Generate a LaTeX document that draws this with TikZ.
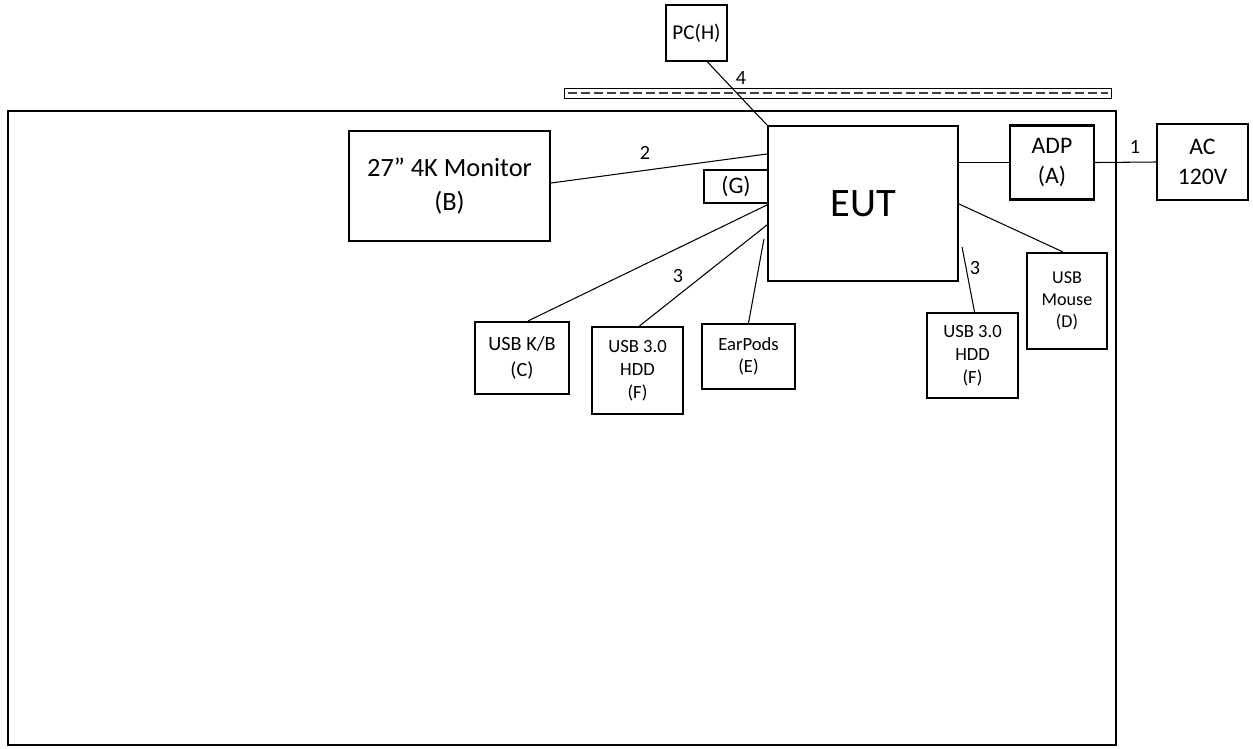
\documentclass[tikz,border=0pt]{standalone}
\usepackage{fontspec}
\setmainfont{Carlito}
\usetikzlibrary{calc}
\newcommand{\fsz}[2]{\fontsize{#1}{#2}\selectfont}
\begin{document}
\begin{tikzpicture}[x=0.02cm,y=-0.02cm,
  unit/.style={draw,line width=1.2pt,inner sep=0pt,align=center},
  cable/.style={line width=0.6pt},
  num/.style={font=\fsz{11.5}{13}}]
\useasboundingbox (0,0) rectangle (1253,748);
\draw[line width=1.2pt] (8,111) rectangle (1116,745);
% table edge
\draw[line width=0.5pt] (564,88) rectangle (1111,98);
\draw[line width=1.6pt,color=darkgray,dash pattern=on 0.18cm off 0.08cm] (568,93) -- (1108,93);
% units
\node[unit,minimum width=1.22cm,minimum height=1.12cm,font=\fsz{12}{14}] (pc) at (696.5,33) {PC(H)};
\node[unit,minimum width=3.8cm,minimum height=3.1cm,font=\fsz{23}{27}] (eut) at (863,203.5) {EUT};
\node[unit,minimum width=4.02cm,minimum height=2.2cm,font=\fsz{15}{19}] (mon) at (449.5,186) {27” 4K Monitor\\(B)};
\node[unit,minimum width=1.28cm,minimum height=0.66cm,font=\fsz{13.5}{15}] (g) at (736,186.5) {(G)};
\node[unit,minimum width=1.68cm,minimum height=1.48cm,font=\fsz{13.5}{17}] (adp) at (1052,162.5) {ADP\\(A)};
\node[unit,minimum width=1.82cm,minimum height=1.52cm,font=\fsz{13.5}{17}] (ac) at (1202.5,162) {AC\\120V};
\node[unit,minimum width=1.88cm,minimum height=1.44cm,font=\fsz{11.5}{15}] (kb) at (522,358) {USB K/B\\(C)};
\node[unit,minimum width=1.82cm,minimum height=1.74cm,font=\fsz{10.6}{13}] (hddl) at (637.5,370.5) {USB 3.0\\HDD\\(F)};
\node[unit,minimum width=1.86cm,minimum height=1.3cm,font=\fsz{10.6}{12.5}] (ear) at (748.5,356.5) {EarPods\\(E)};
\node[unit,minimum width=1.82cm,minimum height=1.7cm,font=\fsz{10.6}{13}] (hddr) at (972.5,355.5) {USB 3.0\\HDD\\(F)};
\node[unit,minimum width=1.6cm,minimum height=1.92cm,font=\fsz{10.3}{12.5}] (mouse) at (1067,301) {USB\\Mouse\\(D)};
% cables
\draw[cable] ($(pc.south)+(11,0)$) -- (eut.north west);
\node[num] (n4) at (741,78) {4};
\draw[cable] ($(mon.east)+(0,-3)$) -- ($(eut.north west)+(0,29)$);
\node[num] (n2) at (645,153) {2};
\draw[cable] (eut.east |- adp.west) -- (adp.west);
\draw[cable] (adp.east) -- (ac.west);
\node[num] (n1) at (1135,147) {1};
\draw[cable] ($(eut.north west)+(0,80)$) -- ($(kb.north)+(6,0)$);
\draw[cable] ($(eut.north west)+(0,100)$) -- ($(hddl.north)+(2,0)$);
\node[num] (n3a) at (678,276) {3};
\draw[cable] ($(eut.north west)+(-3,114)$) -- (ear.north);
\draw[cable] ($(eut.north east)+(3,122)$) -- ($(hddr.north)+(2,0)$);
\node[num] (n3b) at (975,268) {3};
\draw[cable] ($(eut.north east)+(0,79)$) -- ($(mouse.north)+(-4,0)$);
\end{tikzpicture}
\end{document}
